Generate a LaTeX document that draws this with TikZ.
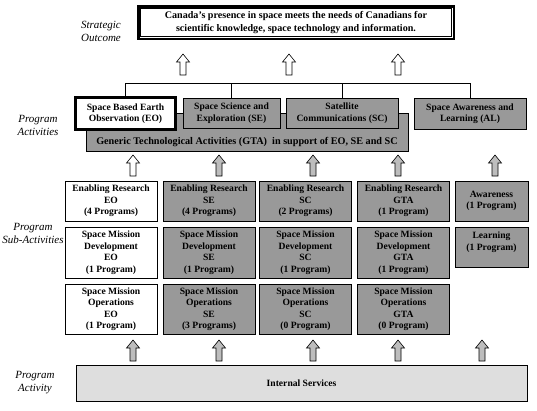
\documentclass[tikz,border=0pt]{standalone}
\usepackage{fontspec}
\setmainfont{Liberation Serif}
\definecolor{boxGray}{gray}{0.6}
\definecolor{arrowGray}{gray}{0.74}
\definecolor{baseGray}{gray}{0.87}
\begin{document}
\begin{tikzpicture}[x=1pt,y=-1pt,
		box/.style={draw=black, line width=0.8pt, fill=boxGray, align=center, inner sep=0pt, font=\fontsize{9.6}{11.5}\selectfont\bfseries},
		whitebox/.style={box, fill=white},
		side/.style={align=center, font=\fontsize{11}{13}\selectfont\itshape}]
		\newcommand{\shaftHalf}{3}
		\newcommand{\headHalf}{6.5}
		\newcommand{\headLen}{8}
		\newcommand{\arrLen}{21}
		\newcommand{\blockArrow}[3]{% tip x, tip y, fill
			\filldraw[fill=#3, draw=black, line width=0.6pt] (#1,#2) -- ++(\headHalf,\headLen) -- ++(-\headHalf+\shaftHalf,0) -- ++(0,\arrLen-\headLen) -- ++(-2*\shaftHalf,0) -- ++(0,-\arrLen+\headLen) -- ++(-\headHalf+\shaftHalf,0) -- cycle;}
		
		\useasboundingbox (0,0) rectangle (537,410);
		
		% strategic outcome
		\node[side] (soLabel) at (101,31) {Strategic\\Outcome};
		\node[whitebox, line width=2.5pt, minimum width=315.5, minimum height=32.5, font=\fontsize{10.1}{12.5}\selectfont\bfseries] (outcome) at (296,22.5) {Canada's presence in space meets the needs of Canadians for\\scientific knowledge, space technology and information.};
		\draw[line width=0.6pt] ([shift={(3.5pt,-3.5pt)}]outcome.north west) rectangle ([shift={(-3.5pt,3.5pt)}]outcome.south east);
		\foreach \x in {183,289,398}
			\blockArrow{\x}{54}{white};
		
		% program activities
		\node[side] (paLabel) at (38,125) {Program\\Activities};
		\node[box, minimum width=322, minimum height=38] (gta) at (247,132) {};
		\node[font=\fontsize{10.2}{12}\selectfont\bfseries] (gtaText) at (247,142) {Generic Technological Activities (GTA)~ in support of EO, SE and SC};
		\node[whitebox, line width=3pt, minimum width=100, minimum height=32] (eo) at (125.5,113.5) {Space Based Earth\\Observation (EO)};
		\node[box, minimum width=97, minimum height=30] (se) at (231.5,113) {Space Science and\\Exploration (SE)};
		\node[box, minimum width=112, minimum height=30] (sc) at (342,113) {Satellite\\Communications (SC)};
		\node[box, minimum width=112, minimum height=31] (al) at (470,113.5) {Space Awareness and\\Learning (AL)};
		
		\coordinate (bus) at (0,83);
		\draw[line width=0.8pt] (eo.north) -- (eo.north |- bus) -- (al.north |- bus) -- (al.north);
		\foreach \n in {se,sc}
			\draw[line width=0.8pt] (\n.north) -- (\n.north |- bus);
		
		\foreach \x/\col in {133/white,219/arrowGray,313/arrowGray,398/arrowGray,495/arrowGray}
			\blockArrow{\x}{155}{\col};
		
		% program sub-activities
		\node[side] (saLabel) at (33,233.5) {Program\\Sub-Activities};
		\foreach \c/\x/\col/\nr/\no in {EO/111/white/4 Programs/1 Program, SE/209/boxGray/4 Programs/3 Programs, SC/305.5/boxGray/2 Programs/0 Program, GTA/403.5/boxGray/1 Program/0 Program}{
			\node[box, fill=\col, minimum width=92, minimum height=40] (er\c) at (\x,201) {Enabling Research\\\c\\(\nr)};
			\node[box, fill=\col, minimum width=92, minimum height=51] (dev\c) at (\x,252.5) {Space Mission\\Development\\\c\\(1 Program)};
			\node[box, fill=\col, minimum width=92, minimum height=50] (ops\c) at (\x,309) {Space Mission\\Operations\\\c\\(\no)};
		}
		\node[box, minimum width=73, minimum height=40] (awareness) at (491.5,201) {Awareness\\(1 Program)};
		\node[box, minimum width=73, minimum height=40] (learning) at (491.5,247) {Learning\\(1 Program)\\\mbox{}};
		
		\foreach \x in {133,219,313,398,482}
			\blockArrow{\x}{340}{arrowGray};
		
		% internal services
		\node[side] (iaLabel) at (35,382.5) {Program\\Activity};
		\node[box, fill=baseGray, minimum width=451, minimum height=36] (internal) at (301.5,383) {Internal Services};
\end{tikzpicture}
\end{document}
